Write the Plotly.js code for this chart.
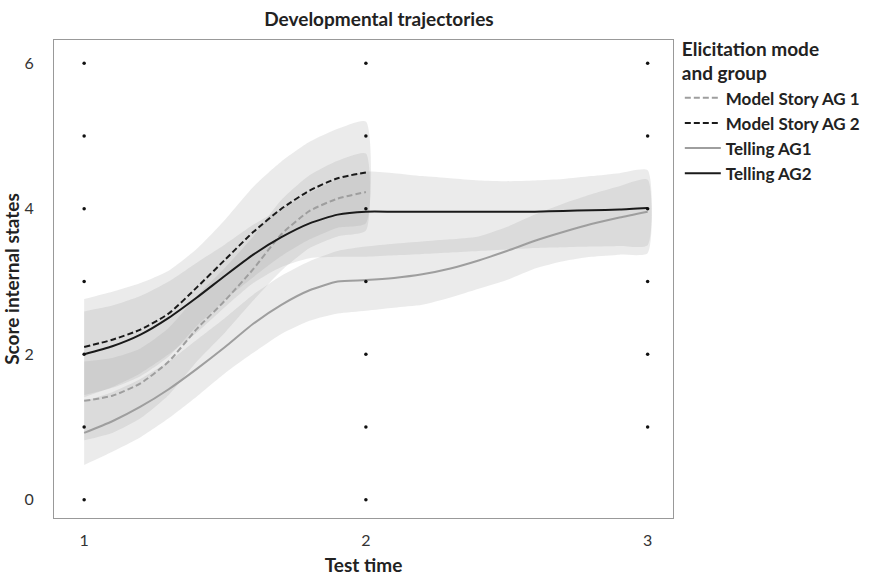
<!DOCTYPE html>
<html>
<head>
<meta charset="utf-8">
<script src="https://cdn.plot.ly/plotly-3.0.1.min.js"></script>
<style>html,body{margin:0;padding:0;background:#fff;}#chart{width:886px;height:576px;}</style>
</head>
<body>
<div id="chart"></div>
<script>
// ---- data ----
const timeMS = [1.0,1.1,1.2,1.3,1.4,1.5,1.6,1.7,1.8,1.9,2.0];
const timeT  = [1.0,1.1,1.2,1.3,1.4,1.5,1.6,1.7,1.8,1.9,2.0,2.1,2.2,2.3,2.4,2.5,2.6,2.7,2.8,2.9,3.0];

const msAG1      = [1.36,1.43,1.60,1.90,2.35,2.74,3.17,3.65,3.97,4.14,4.23];
const msAG1Upper = [1.90,1.95,2.08,2.36,2.80,3.19,3.62,4.12,4.46,4.66,4.76];
const msAG1Lower = [0.82,0.92,1.12,1.44,1.90,2.30,2.74,3.15,3.46,3.62,3.70];

const msAG2      = [2.10,2.20,2.34,2.56,2.92,3.30,3.68,4.00,4.25,4.42,4.50];
const msAG2Upper = [2.76,2.86,2.98,3.15,3.45,3.85,4.30,4.65,4.92,5.10,5.20];
const msAG2Lower = [1.44,1.54,1.70,1.97,2.39,2.75,3.06,3.35,3.58,3.74,3.80];

const tAG1      = [0.92,1.08,1.28,1.52,1.80,2.10,2.42,2.68,2.88,3.00,3.02,3.05,3.10,3.18,3.29,3.42,3.56,3.68,3.79,3.88,3.96];
const tAG1Upper = [1.36,1.48,1.66,1.90,2.20,2.50,2.82,3.08,3.28,3.42,3.48,3.52,3.55,3.58,3.62,3.75,3.92,4.07,4.20,4.31,4.40];
const tAG1Lower = [0.48,0.66,0.86,1.12,1.42,1.74,2.02,2.28,2.46,2.56,2.60,2.64,2.68,2.78,2.90,3.02,3.18,3.28,3.34,3.37,3.39];

const tAG2      = [2.00,2.11,2.27,2.50,2.78,3.08,3.37,3.61,3.80,3.92,3.96,3.96,3.96,3.96,3.96,3.96,3.96,3.97,3.98,3.99,4.01];
const tAG2Upper = [2.59,2.67,2.80,3.00,3.26,3.51,3.78,4.00,4.22,4.40,4.51,4.49,4.45,4.42,4.39,4.38,4.39,4.41,4.45,4.49,4.53];
const tAG2Lower = [1.41,1.55,1.74,2.00,2.30,2.65,2.98,3.20,3.32,3.34,3.34,3.36,3.38,3.40,3.42,3.44,3.46,3.47,3.48,3.49,3.50];

const obsTime  = [1,1,1,1,1,1,1, 2,2,2,2,2,2,2, 3,3,3,3,3,3];
const obsScore = [0,1,2,3,4,5,6, 0,1,2,3,4,5,6, 1,2,3,4,5,6];

const seriesNames = ['Model Story AG 1','Model Story AG 2','Telling AG1','Telling AG2'];
const xTicks = [1,2,3];
const yTicks = [0,2,4,6];

// ---- build ----
const FONT = 'Lato, "Open Sans", sans-serif';
const bandFill = 'rgba(153,153,153,0.2)';
function band(x, lo, hi){
  return {
    x: x.concat(x.slice().reverse()),
    y: hi.concat(lo.slice().reverse()),
    type:'scatter', mode:'lines', fill:'toself', fillcolor: bandFill,
    line:{width:0, shape:'spline', smoothing:0.6}, hoverinfo:'skip', showlegend:false
  };
}
function line(x, y, name, color, dash){
  return {x:x, y:y, name:name, type:'scatter', mode:'lines',
    line:{color:color, width:2, dash:dash, shape:'spline', smoothing:0.6}};
}
const traces = [
  band(timeMS, msAG1Lower, msAG1Upper),
  band(timeMS, msAG2Lower, msAG2Upper),
  band(timeT, tAG1Lower, tAG1Upper),
  band(timeT, tAG2Lower, tAG2Upper),
  line(timeMS, msAG1, seriesNames[0], '#9e9e9e', '6px,3px'),
  line(timeMS, msAG2, seriesNames[1], '#1a1a1a', '6px,3px'),
  line(timeT, tAG1, seriesNames[2], '#9e9e9e', 'solid'),
  line(timeT, tAG2, seriesNames[3], '#1a1a1a', 'solid'),
  {x: obsTime, y: obsScore, type:'scatter', mode:'markers',
   marker:{color:'#111', size:3.5}, showlegend:false, hoverinfo:'skip'}
];

const layout = {
  width:886, height:576,
  margin:{l:54, r:213, t:40, b:58},
  paper_bgcolor:'#fff', plot_bgcolor:'#fff',
  font:{family:FONT, color:'#222', size:15},
  title:{text:'<b>Developmental trajectories</b>', font:{family:FONT, size:19, color:'#222'},
         x:0.525, xref:'paper', xanchor:'center', y:0.967, yref:'container', yanchor:'middle'},
  xaxis:{range:[0.893,3.09], tickvals:xTicks, ticktext:xTicks.map(String), showgrid:false, zeroline:false,
         showline:true, mirror:true, linecolor:'#999', linewidth:1, ticks:'', ticklabelstandoff:8,
         tickfont:{size:16, color:'#333'},
         title:{text:'<b>Test time</b>', font:{size:19, color:'#222'}, standoff:10}},
  yaxis:{range:[-0.25,6.32], tickvals:yTicks, ticktext:yTicks.map(String), showgrid:false, zeroline:false,
         showline:true, mirror:true, linecolor:'#999', linewidth:1, ticks:'', ticklabelstandoff:16,
         tickfont:{size:16, color:'#333'},
         title:{text:'<b>Score internal states</b>', font:{size:19, color:'#222'}, standoff:3}},
  legend:{x:1.011, xanchor:'left', y:1.019, yanchor:'top', bgcolor:'rgba(0,0,0,0)',
          font:{family:FONT, size:17, color:'#222', weight:'bold'},
          title:{text:'<b>Elicitation mode<br>and group</b>', font:{family:FONT, size:19, color:'#222'}},
          tracegroupgap:0, itemwidth:36},
  showlegend:true
};
Plotly.newPlot('chart', traces, layout, {displayModeBar:false, staticPlot:true});
</script>
</body>
</html>
